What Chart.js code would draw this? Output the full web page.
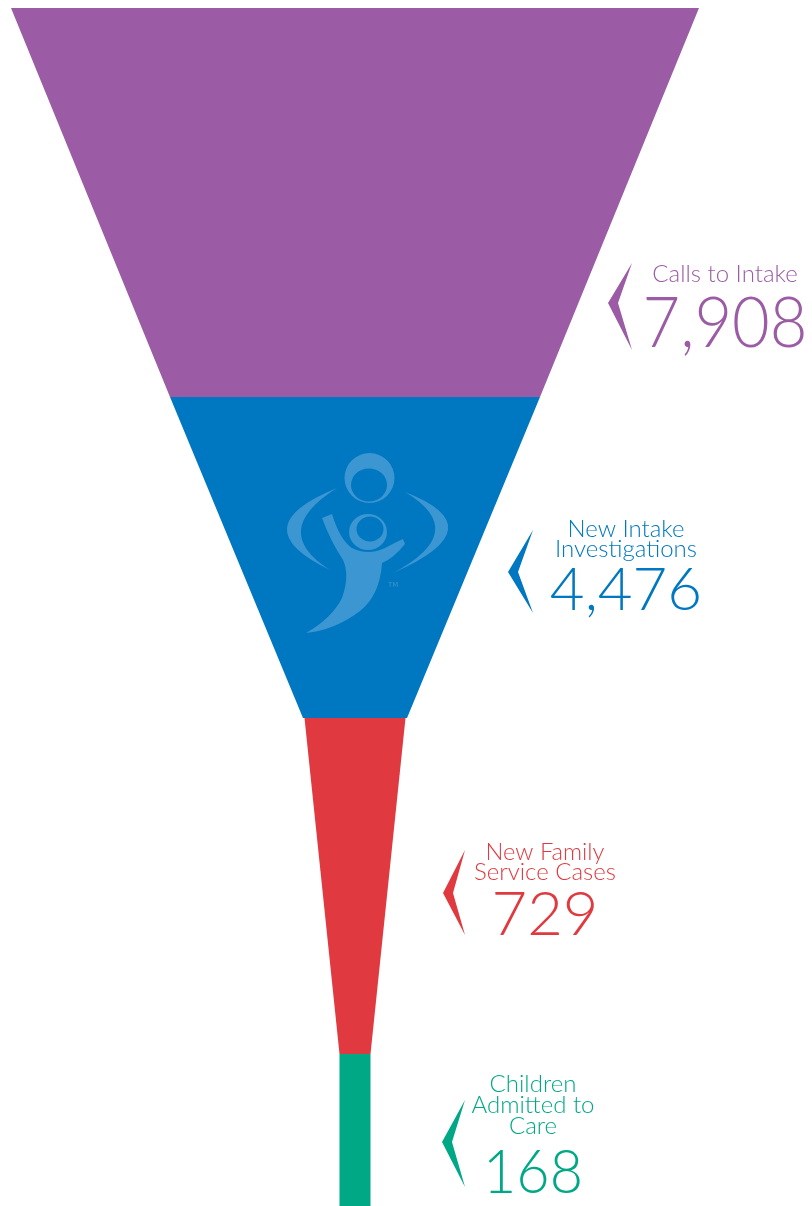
<!DOCTYPE html>
<html>
<head>
<meta charset="utf-8">
<script src="https://cdn.jsdelivr.net/npm/chart.js@4.4.1/dist/chart.umd.min.js"></script>
<style>
html, body { margin: 0; padding: 0; background: #fff; }
#chart { display: block; }
</style>
</head>
<body>
<canvas id="chart" width="812" height="1206"></canvas>
<script>
const stageLines = [['Calls to Intake'], ['New Intake', 'Investigations'], ['New Family', 'Service Cases'], ['Children', 'Admitted to', 'Care']];
const counts = [7908, 4476, 729, 168];
// funnel width at the top and bottom of each stage, and the depth where each stage starts / ends
const topWidths = [688, 370, 101, 31];
const bottomWidths = [370, 104, 31, 31];
const depths = [8, 397, 718, 1054, 1206];

const colors = ['#9B5BA5', '#0077C1', '#E03A40', '#00A886'];
const funnelCenter = 355;

// where each label block sits (pixels, same units as the axes)
const labelLayout = [
  {cx: 725, base: [282], lineW: [150], num: 347, numSize: 70, numW: 165, chev: [608, 632, 263, 303, 350]},
  {cx: 626, base: [537, 557], lineW: [117, 143], num: 610, numSize: 60, numW: 158, chev: [508, 533, 530, 572, 613]},
  {cx: 545, base: [860, 880], lineW: [119, 143], num: 935, numSize: 62, numW: 107, chev: [443, 465, 850, 893, 935]},
  {cx: 533, base: [1092, 1113, 1134], lineW: [97, 124, 61], num: 1193, numSize: 62, numW: 100, chev: [442, 465, 1100, 1142, 1187]}
];

const datasets = counts.map((c, i) => {
  const t = topWidths[i] / 2, b = bottomWidths[i] / 2;
  return {
    label: stageLines[i].join(' '),
    data: [
      {x: funnelCenter - t, y: depths[i]},
      {x: funnelCenter + t, y: depths[i]},
      {x: funnelCenter + b, y: depths[i + 1]},
      {x: funnelCenter - b, y: depths[i + 1]},
      {x: funnelCenter - t, y: depths[i]}
    ],
    showLine: true,
    fill: 'shape',
    backgroundColor: colors[i],
    borderColor: 'rgba(0,0,0,0)',
    borderWidth: 0,
    pointRadius: 0,
    tension: 0
  };
});

function crescent(ctx, t1, t2, outer, inner) {
  const mx = (t1[0] + t2[0]) / 2, my = (t1[1] + t2[1]) / 2;
  ctx.beginPath();
  ctx.moveTo(t1[0], t1[1]);
  ctx.quadraticCurveTo(2 * outer[0] - mx, 2 * outer[1] - my, t2[0], t2[1]);
  ctx.quadraticCurveTo(2 * inner[0] - mx, 2 * inner[1] - my, t1[0], t1[1]);
  ctx.closePath();
  ctx.fill();
}

const labelsPlugin = {
  id: 'funnelLabels',
  afterDatasetsDraw(chart) {
    const ctx = chart.ctx;
    const xs = chart.scales.x, ys = chart.scales.y;
    const px = v => xs.getPixelForValue(v);
    const py = v => ys.getPixelForValue(v);

    // faded logo in the second stage
    ctx.save();
    ctx.fillStyle = '#3B96D2';
    ctx.beginPath();
    ctx.ellipse(px(369.5), py(478), 25, 25, 0, 0, Math.PI * 2);
    ctx.ellipse(px(369), py(485), 18, 16.5, 0, 0, Math.PI * 2);
    ctx.fill('evenodd');
    crescent(ctx, [px(337), py(488)], [px(330), py(570)], [px(287), py(528)], [px(301), py(530)]);
    crescent(ctx, [px(405), py(492)], [px(393), py(573)], [px(448), py(530)], [px(435), py(532)]);
    ctx.beginPath();
    ctx.moveTo(px(322), py(518));
    ctx.lineTo(px(332), py(514));
    ctx.quadraticCurveTo(px(340), py(540), px(352), py(548));
    ctx.quadraticCurveTo(px(368), py(556), px(385), py(548));
    ctx.quadraticCurveTo(px(396), py(542), px(403), py(539));
    ctx.lineTo(px(405), py(544));
    ctx.quadraticCurveTo(px(394), py(558), px(382), py(563));
    ctx.quadraticCurveTo(px(380), py(595), px(360), py(611));
    ctx.quadraticCurveTo(px(335), py(630), px(306), py(633));
    ctx.quadraticCurveTo(px(332), py(618), px(342), py(598));
    ctx.quadraticCurveTo(px(350), py(575), px(343), py(560));
    ctx.quadraticCurveTo(px(330), py(540), px(322), py(518));
    ctx.closePath();
    ctx.fill();
    ctx.beginPath();
    ctx.ellipse(px(368), py(532), 19, 18, 0, 0, Math.PI * 2);
    ctx.ellipse(px(370), py(529), 13.5, 12.5, 0, 0, Math.PI * 2);
    ctx.fill('evenodd');
    ctx.font = '7px "DejaVu Sans"';
    ctx.textAlign = 'left';
    ctx.fillText('TM', px(388), py(587));
    ctx.restore();

    // labels with chevrons
    labelLayout.forEach((L, i) => {
      const col = colors[i];
      ctx.save();
      ctx.fillStyle = col;
      const [xl, xr, yt, ym, yb] = L.chev;
      ctx.beginPath();
      ctx.moveTo(px(xr), py(yt));
      ctx.lineTo(px(xl), py(ym));
      ctx.lineTo(px(xr), py(yb));
      ctx.lineTo(px(xl + 10), py(ym));
      ctx.closePath();
      ctx.fill();

      ctx.textAlign = 'center';
      ctx.textBaseline = 'alphabetic';
      ctx.font = '300 24px Lato';
      stageLines[i].forEach((line, j) => {
        ctx.fillText(line, px(L.cx), py(L.base[j]), L.lineW[j]);
      });
      ctx.font = '300 ' + L.numSize + 'px Lato';
      ctx.fillText(counts[i].toLocaleString('en-US'), px(L.cx), py(L.num), L.numW);
      ctx.restore();
    });
  }
};

new Chart(document.getElementById('chart'), {
  type: 'scatter',
  data: { datasets: datasets },
  options: {
    responsive: false,
    animation: false,
    events: [],
    layout: { padding: 0 },
    scales: {
      x: { type: 'linear', min: 0, max: 812, display: false },
      y: { type: 'linear', min: 0, max: 1206, reverse: true, display: false }
    },
    plugins: {
      legend: { display: false },
      tooltip: { enabled: false }
    }
  },
  plugins: [labelsPlugin]
});
</script>
</body>
</html>
